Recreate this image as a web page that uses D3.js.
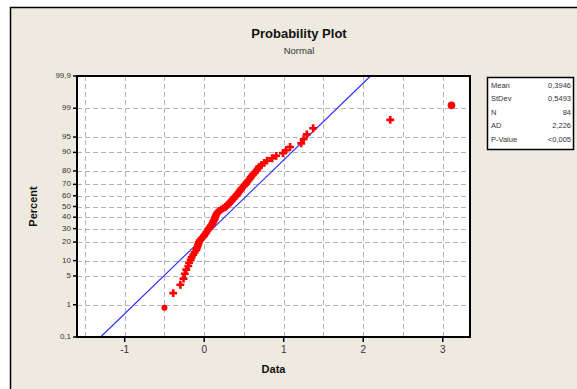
<!DOCTYPE html>
<html>
<head>
<meta charset="utf-8">
<script src="https://cdn.jsdelivr.net/npm/d3@7"></script>
<style>
body{margin:0;background:#fff;}
text{font-family:"Liberation Sans",Arial,sans-serif;}
</style>
</head>
<body>
<svg id="chart" width="577" height="389"></svg>
<script>
// sorted sample values, N = 84
const values=[
-0.50,-0.39,-0.30,-0.26,-0.245,-0.226,-0.20,-0.19,-0.17,-0.157,
-0.138,-0.12,-0.10,-0.092,-0.082,-0.075,-0.069,-0.057,-0.038,-0.019,
0.0,0.013,0.025,0.038,0.05,0.063,0.075,0.088,0.10,0.109,
0.117,0.126,0.132,0.138,0.145,0.151,0.16,0.17,0.188,0.214,
0.239,0.264,0.283,0.30,0.314,0.327,0.345,0.358,0.37,0.383,
0.402,0.415,0.427,0.44,0.452,0.465,0.477,0.496,0.509,0.528,
0.54,0.557,0.572,0.584,0.597,0.616,0.64,0.66,0.672,0.69,
0.722,0.754,0.79,0.854,0.905,0.99,1.03,1.08,1.22,1.25,
1.29,1.37,2.34,3.11
];
const percentTicks=[0.1,1,5,10,20,30,40,50,60,70,80,90,95,99,99.9];
const percentLabels=["0,1","1","5","10","20","30","40","50","60","70","80","90","95","99","99,9"];
const dataTicks=[-1,0,1,2,3];
const statNames=["Mean","StDev","N","AD","P-Value"];
const statValues=["0,3946","0,5493","84","2,226","<0,005"];
const fitMean=0.3946;
const fitSd=0.5493;

// inverse normal cdf (Acklam)
function probit(p){
    const a=[-39.69683028665376,220.9460984245205,-275.9285104469687,138.357751867269,-30.66479806614716,2.506628277459239];
    const b=[-54.47609879822406,161.5858368580409,-155.6989798598866,66.80131188771972,-13.28068155288572];
    const c=[-0.007784894002430293,-0.3223964580411365,-2.400758277161838,-2.549732539343734,4.374664141464968,2.938163982698783];
    const d=[0.007784695709041462,0.3224671290700398,2.445134137142996,3.754408661907416];
    const pl=0.02425;
    let q,r;
    if(p<pl){
        q=Math.sqrt(-2*Math.log(p));
        return (((((c[0]*q+c[1])*q+c[2])*q+c[3])*q+c[4])*q+c[5])/((((d[0]*q+d[1])*q+d[2])*q+d[3])*q+1);
    }
    if(p>1-pl){
        q=Math.sqrt(-2*Math.log(1-p));
        return -(((((c[0]*q+c[1])*q+c[2])*q+c[3])*q+c[4])*q+c[5])/((((d[0]*q+d[1])*q+d[2])*q+d[3])*q+1);
    }
    q=p-0.5;r=q*q;
    return (((((a[0]*r+a[1])*r+a[2])*r+a[3])*r+a[4])*r+a[5])*q/(((((b[0]*r+b[1])*r+b[2])*r+b[3])*r+b[4])*r+1);
}

const svg=d3.select("#chart");
const L=77,R=470,T=76,B=337;

// ---------- panel ----------
svg.append("rect")
    .attr("x",10.5).attr("y",7.5)
    .attr("width",600).attr("height",400)
    .attr("fill","#efeadf")
    .attr("stroke","#000")
    .attr("stroke-width",1.5);

const x=d3.scaleLinear().domain([-1.6,3.343]).range([L,R]);
const zMax=probit(0.999);
const y=d3.scaleLinear().domain([-zMax,zMax]).range([B,T]);
const yp=p=>y(probit(p/100));

svg.append("rect")
    .attr("x",L).attr("y",T)
    .attr("width",R-L).attr("height",B-T)
    .attr("fill","#fff");

// ---------- grid ----------
const grid=svg.append("g")
    .attr("stroke","#b4b4b4")
    .attr("stroke-width",1)
    .attr("stroke-dasharray","5,3");
d3.range(-1.5,3.01,0.5).forEach(v=>{
    grid.append("line")
        .attr("x1",Math.round(x(v))+0.5).attr("x2",Math.round(x(v))+0.5)
        .attr("y1",T).attr("y2",B);
});
percentTicks.slice(1,-1).forEach(p=>{
    grid.append("line")
        .attr("x1",L).attr("x2",R)
        .attr("y1",Math.round(yp(p))+0.5).attr("y2",Math.round(yp(p))+0.5);
});

// ---------- fitted line ----------
svg.append("line")
    .attr("x1",x(fitMean+fitSd*probit(0.001)))
    .attr("y1",y(probit(0.001)))
    .attr("x2",x(fitMean+fitSd*probit(0.999)))
    .attr("y2",y(probit(0.999)))
    .attr("stroke","#2a2aff")
    .attr("stroke-width",1.1);

// ---------- points ----------
const n=values.length;
const pts=values.map((v,i)=>({v,p:(i+1-0.3)/(n+0.4)}));
const cross=d3.symbol().type(d3.symbolCross).size(34);
svg.append("g")
    .selectAll("path")
    .data(pts.slice(1,-1))
    .join("path")
    .attr("d",cross)
    .attr("transform",d=>`translate(${x(d.v)},${y(probit(d.p))})`)
    .attr("fill","#ff0000");
svg.append("g")
    .selectAll("circle")
    .data([pts[0],pts[n-1]])
    .join("circle")
    .attr("cx",d=>x(d.v))
    .attr("cy",d=>y(probit(d.p)))
    .attr("r",(d,i)=>i?3.8:3)
    .attr("fill","#ff0000");

// ---------- frame ----------
svg.append("rect")
    .attr("x",L).attr("y",T)
    .attr("width",R-L).attr("height",B-T)
    .attr("fill","none")
    .attr("stroke","#000")
    .attr("stroke-width",2);

// ---------- y axis ----------
const yAxis=svg.append("g");
percentTicks.forEach((p,i)=>{
    const yy=yp(p);
    yAxis.append("line")
        .attr("x1",L-4).attr("x2",L)
        .attr("y1",yy).attr("y2",yy)
        .attr("stroke","#000").attr("stroke-width",1.5);
    yAxis.append("text")
        .attr("x",L-6).attr("y",yy)
        .attr("text-anchor","end")
        .attr("dominant-baseline","middle")
        .attr("font-size",8)
        .attr("fill","#333")
        .text(percentLabels[i]);
});

// ---------- x axis ----------
const xAxis=svg.append("g");
dataTicks.forEach(v=>{
    xAxis.append("line")
        .attr("x1",x(v)).attr("x2",x(v))
        .attr("y1",B).attr("y2",B+5)
        .attr("stroke","#000").attr("stroke-width",1.5);
    xAxis.append("text")
        .attr("x",x(v)).attr("y",B+16)
        .attr("text-anchor","middle")
        .attr("font-size",10)
        .attr("fill","#333")
        .text(v);
});

// ---------- titles ----------
svg.append("text")
    .attr("x",299).attr("y",38)
    .attr("text-anchor","middle")
    .attr("font-size",13).attr("font-weight","bold")
    .attr("fill","#111")
    .text("Probability Plot");
svg.append("text")
    .attr("x",299).attr("y",54)
    .attr("text-anchor","middle")
    .attr("font-size",9.5)
    .attr("fill","#333")
    .text("Normal");
svg.append("text")
    .attr("x",(L+R)/2).attr("y",373)
    .attr("text-anchor","middle")
    .attr("font-size",11).attr("font-weight","bold")
    .attr("fill","#111")
    .text("Data");
svg.append("text")
    .attr("transform",`translate(37,${(T+B)/2}) rotate(-90)`)
    .attr("text-anchor","middle")
    .attr("font-size",11).attr("font-weight","bold")
    .attr("fill","#111")
    .text("Percent");

// ---------- stats box ----------
const box=svg.append("g");
box.append("rect")
    .attr("x",487.5).attr("y",77.5)
    .attr("width",86).attr("height",72)
    .attr("fill","#fff")
    .attr("stroke","#000")
    .attr("stroke-width",1.5);
statNames.forEach((s,i)=>{
    const yy=86+i*13.5;
    box.append("text")
        .attr("x",491).attr("y",yy)
        .attr("dominant-baseline","middle")
        .attr("font-size",7.5)
        .attr("fill","#333")
        .text(s);
    box.append("text")
        .attr("x",571).attr("y",yy)
        .attr("text-anchor","end")
        .attr("dominant-baseline","middle")
        .attr("font-size",7.5)
        .attr("fill","#333")
        .text(statValues[i]);
});
</script>
</body>
</html>
